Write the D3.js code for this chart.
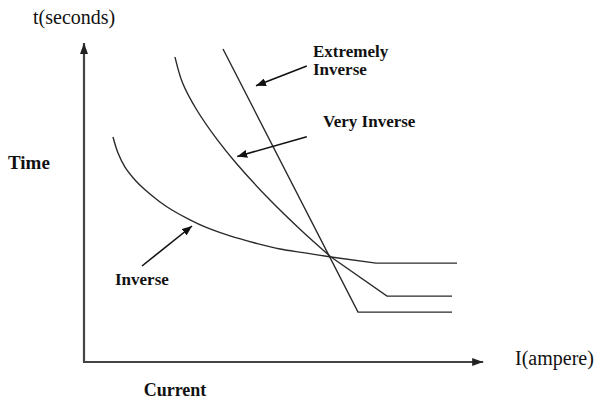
<!DOCTYPE html>
<html><head><meta charset="utf-8">
<script src="https://cdn.jsdelivr.net/npm/d3@7"></script>
<style>body{margin:0;background:#fff}svg{display:block}text{font-family:"Liberation Serif","Times New Roman",serif}</style>
</head><body><div id="chart"></div>
<script>
// Curves: [current I, time t] in arbitrary units (axes 0..10)
const inverseCurve = [[0.725,7.03],[0.85,6.53],[1.025,6.09],[1.275,5.69],[1.525,5.38],[1.9,5.0],[2.2,4.75],[2.65,4.44],[3.025,4.22],[3.65,3.94],[4.275,3.72],[4.9,3.53],[5.525,3.41],[6.175,3.28]];
const inverseTail = [[6.175,3.28],[7.3,3.09],[9.325,3.09]];
const veryInverseCurve = [[2.275,9.53],[2.465,8.72],[2.82,7.875],[3.335,6.94],[3.8,6.22],[4.65,5.06],[5.42,4.125],[6.175,3.28]];
const veryInverseTail = [[6.175,3.28],[7.575,2.06],[9.2,2.06]];
const extremelyInverse = [[3.475,9.78],[6.85,1.56],[9.2,1.56]];
// annotation arrows: from [I,t] to [I,t]
const arrowFrom = [[5.57,9.25],[5.57,7.04],[1.45,3.0]];
const arrowTo = [[4.3,8.63],[3.83,6.42],[2.7,4.25]];
const labelText = [["Extremely","Inverse"],["Very Inverse"],["Inverse"]];
const labelPos = [[5.725,9.53],[5.975,7.34],[0.775,2.41]];

const W=600,H=400;
const svg=d3.select("#chart").append("svg").attr("width",W).attr("height",H);
const x=d3.scaleLinear().domain([0,10]).range([84,484]);
const y=d3.scaleLinear().domain([0,10]).range([362,42]);

const defs=svg.append("defs");
defs.append("marker").attr("id","ah").attr("viewBox","0 0 10 8").attr("refX",10).attr("refY",4)
  .attr("markerWidth",10).attr("markerHeight",8).attr("markerUnits","userSpaceOnUse").attr("orient","auto")
  .append("path").attr("d","M0,0L10,4L0,8Z").attr("fill","#111");
defs.append("marker").attr("id","axh").attr("viewBox","0 0 11 8").attr("refX",11).attr("refY",4)
  .attr("markerWidth",11).attr("markerHeight",8).attr("markerUnits","userSpaceOnUse").attr("orient","auto")
  .append("path").attr("d","M0,0L11,4L0,8Z").attr("fill","#222");

// axes
svg.append("line").attr("x1",x(0)).attr("y1",y(0)).attr("x2",x(0)).attr("y2",y(9.97))
  .attr("stroke","#444").attr("stroke-width",2.2).attr("marker-end","url(#axh)");
svg.append("line").attr("x1",x(0)-1).attr("y1",y(0)).attr("x2",x(9.98)).attr("y2",y(0))
  .attr("stroke","#444").attr("stroke-width",2.2).attr("marker-end","url(#axh)");

const smooth=d3.line().x(d=>x(d[0])).y(d=>y(d[1])).curve(d3.curveCatmullRom.alpha(0.5));
const straight=d3.line().x(d=>x(d[0])).y(d=>y(d[1]));
const st={stroke:"#2a2a2a","stroke-width":1.4,fill:"none"};
function draw(data,gen){const p=svg.append("path").attr("d",gen(data));Object.entries(st).forEach(([k,v])=>p.attr(k,v));}
draw(inverseCurve,smooth);draw(inverseTail,straight);
draw(veryInverseCurve,smooth);draw(veryInverseTail,straight);
draw(extremelyInverse,straight);

// annotation arrows
arrowFrom.forEach((f,i)=>{
  svg.append("line").attr("x1",x(f[0])).attr("y1",y(f[1])).attr("x2",x(arrowTo[i][0])).attr("y2",y(arrowTo[i][1]))
   .attr("stroke","#111").attr("stroke-width",1.6).attr("marker-end","url(#ah)");
});
labelText.forEach((lines,i)=>{
  const t=svg.append("text").attr("x",x(labelPos[i][0])).attr("y",y(labelPos[i][1]))
    .attr("font-size",17).attr("font-weight","bold").attr("fill","#111");
  lines.forEach((l,j)=>t.append("tspan").attr("x",x(labelPos[i][0])).attr("dy",j?18:0).text(l));
});

// axis titles
svg.append("text").attr("x",33).attr("y",24).attr("font-size",20).attr("fill","#111").text("t(seconds)");
svg.append("text").attr("x",515).attr("y",365).attr("font-size",20).attr("fill","#111").text("I(ampere)");
svg.append("text").attr("x",8).attr("y",169).attr("font-size",19).attr("font-weight","bold").attr("fill","#111").text("Time");
svg.append("text").attr("x",175).attr("y",396).attr("text-anchor","middle").attr("font-size",18).attr("font-weight","bold").attr("fill","#111").text("Current");
</script></body></html>
